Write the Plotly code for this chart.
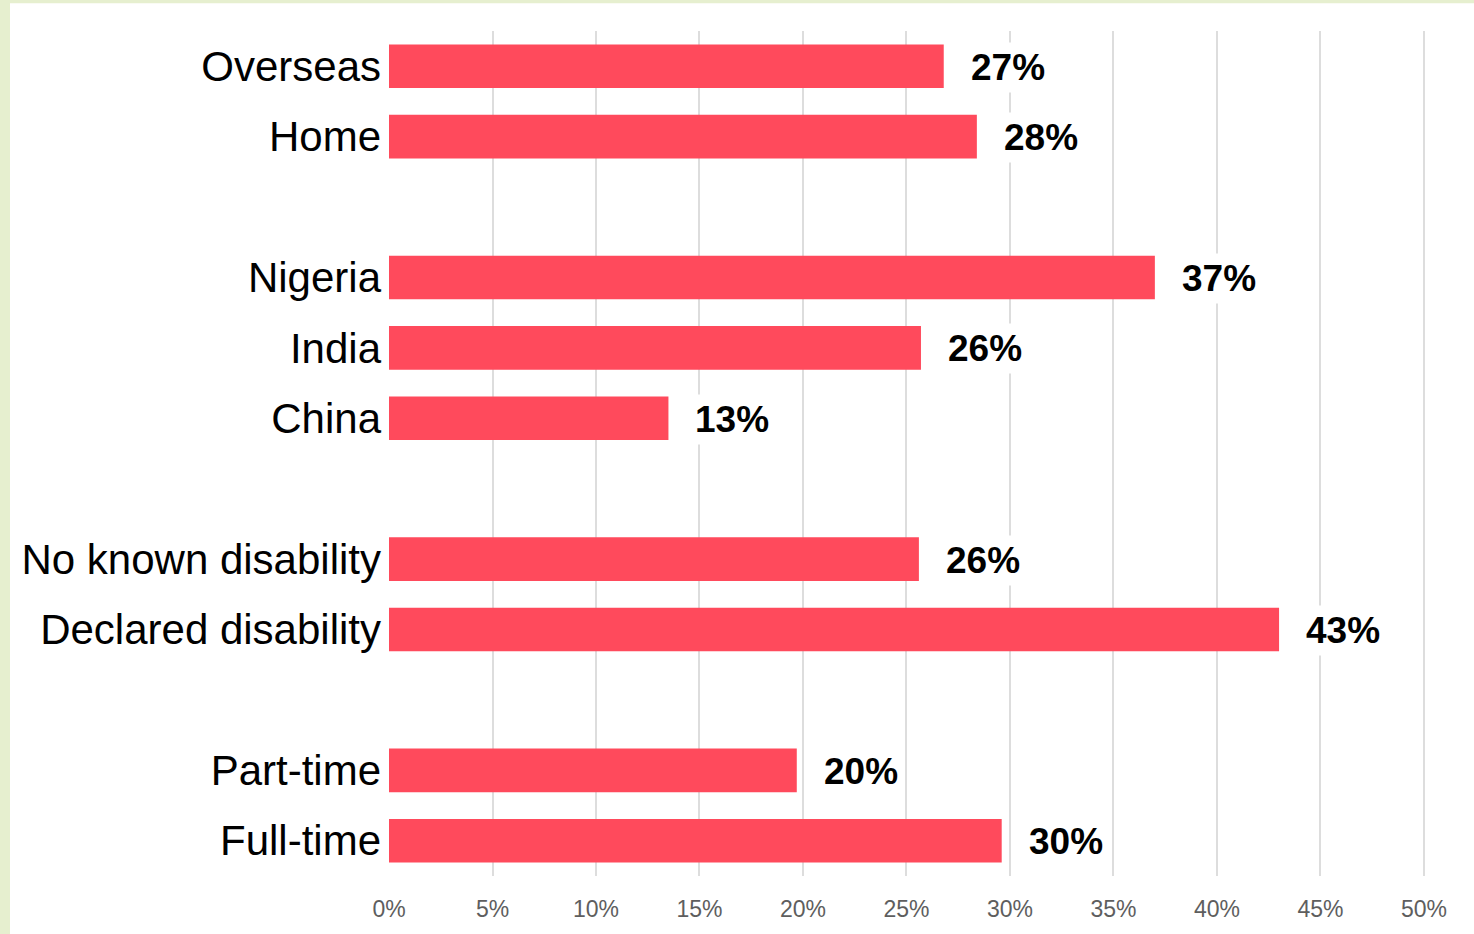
import plotly.graph_objects as go

# Data
categories = ["Overseas", "Home", "Nigeria", "India", "China",
              "No known disability", "Declared disability", "Part-time", "Full-time"]
values = [26.8, 28.4, 37.0, 25.7, 13.5, 25.6, 43.0, 19.7, 29.6]
value_labels = ["27%", "28%", "37%", "26%", "13%", "26%", "43%", "20%", "30%"]
# category order including blank spacer rows between groups
category_order = ["Overseas", "Home", " ", "Nigeria", "India", "China", "  ",
                  "No known disability", "Declared disability", "   ", "Part-time", "Full-time"]
x_tickvals = [0, 5, 10, 15, 20, 25, 30, 35, 40, 45, 50]
x_ticktext = ["0%", "5%", "10%", "15%", "20%", "25%", "30%", "35%", "40%", "45%", "50%"]

BAR = "#FF4A5C"
GREEN = "#E6EFCF"
W, H = 1474, 934
L, R, T, B = 389, 49, 31, 47

fig = go.Figure()
fig.add_trace(go.Bar(
    x=values, y=categories, orientation="h",
    marker=dict(color=BAR, line=dict(width=0)),
    width=0.62, hoverinfo="x+y",
))

for v, c, t in zip(values, categories, value_labels):
    fig.add_annotation(
        x=v, y=c, xref="x", yref="y", text=f"<b>{t}</b>", showarrow=False,
        xanchor="left", yanchor="middle", xshift=22, yshift=-1,
        font=dict(family="Liberation Sans, Arial, sans-serif", size=37, color="#000"),
        bgcolor="#FFFFFF", borderpad=4,
    )

pw = W - L - R
ph = H - T - B
fig.add_shape(
    type="rect", xref="paper", yref="paper", layer="below",
    x0=(10 - L) / pw, x1=(W + 10 - L) / pw,
    y0=-(B + 20) / ph, y1=1 + (T - 3) / ph,
    fillcolor="#FFFFFF", line=dict(width=0),
)

fig.update_layout(
    width=W, height=H,
    margin=dict(l=L, r=R, t=T, b=B, pad=0),
    paper_bgcolor=GREEN, plot_bgcolor="#FFFFFF",
    showlegend=False, bargap=0.38,
    font=dict(family="Liberation Sans, Arial, sans-serif", color="#000"),
)
fig.update_xaxes(
    range=[0, 50.05], tickvals=x_tickvals, ticktext=x_ticktext,
    showgrid=True, gridcolor="#DDDDDD", gridwidth=1.5,
    zeroline=False, showline=False, ticks="",
    tickfont=dict(family="Liberation Sans, Arial, sans-serif", size=23, color="#5E5E5E"),
    ticklabelstandoff=17, fixedrange=True,
)
fig.update_yaxes(
    categoryorder="array", categoryarray=category_order,
    range=[11.5, -0.5], showgrid=False, zeroline=False, showline=False, ticks="",
    tickfont=dict(family="Liberation Sans, Arial, sans-serif", size=42, color="#000000"),
    ticklabelstandoff=7, fixedrange=True,
)

fig.write_html(
    "out.html",
    config={"displayModeBar": False},
    post_script="document.body.style.margin='0';document.body.style.background='%s';" % GREEN,
)
